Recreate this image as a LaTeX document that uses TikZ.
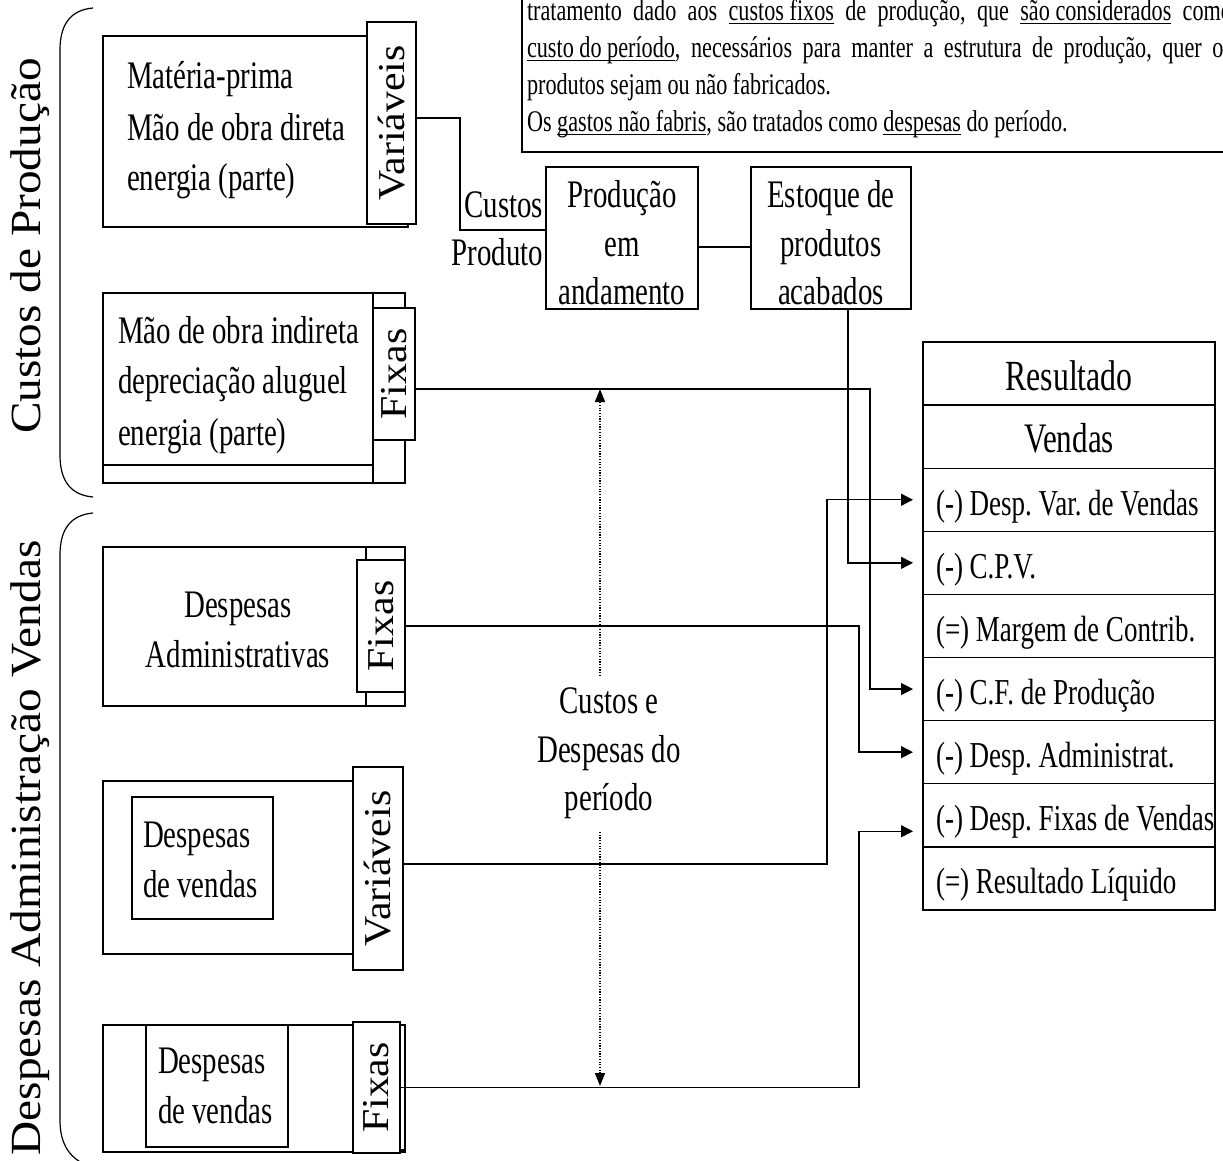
\documentclass[tikz,border=0pt]{standalone}
\usepackage{fontspec}
\setmainfont[FakeStretch=0.74]{Liberation Serif}
\newfontfamily\widefont[FakeStretch=1.1]{Liberation Serif}
\usetikzlibrary{arrows.meta}
\newcommand\fs[1]{\fontsize{#1}{#1}\selectfont}
\newcommand\myul[1]{\vtop{\hbox{\raisebox{0pt}[\height][0pt]{#1}}\kern3pt\hrule height 1.2pt}}
\frenchspacing
\begin{document}
\frenchspacing
\begin{tikzpicture}[x=1pt,y=-1pt,
  bx/.style={draw, line width=1.4pt, inner sep=0pt, outer sep=0pt, anchor=north west},
  wfill/.style={fill=white},
  txt/.style={inner sep=0pt, outer sep=0pt, anchor=base west, font=\fs{39}},
  ctxt/.style={inner sep=0pt, outer sep=0pt, anchor=base, font=\fs{39}},
  rtxt/.style={inner sep=0pt, outer sep=0pt, anchor=base west, font=\fs{36.5}},
  note/.style={inner sep=0pt, outer sep=0pt, anchor=base west, font=\fs{30}},
  rot/.style={inner sep=0pt, rotate=90, font=\widefont\fs{38}},
  side/.style={inner sep=0pt, rotate=90, font=\widefont\fs{43}},
  wire/.style={line width=1.4pt},
  arr/.style={wire, shorten >=10pt, -{Triangle[length=12pt,width=12pt]}},
  dots/.style={line width=1.2pt, dash pattern=on 1.2pt off 1.5pt, -{Triangle[length=13pt,width=10pt]}},
  brace/.style={line width=1.2pt},
]
\useasboundingbox (0,0) rectangle (1223,1160);
\clip (0,0) rectangle (1223,1160);

% ---------- note box (top) ----------
\node[bx, minimum width=730pt, minimum height=175pt] (notebox) at (522,-23) {};
\node[note] (n1) at (527,20) {\hbox to 705pt{tratamento dado aos \myul{custos fixos} de produção, que \myul{são considerados} como}};
\node[note] (n2) at (527,57) {\hbox to 705pt{\myul{custo do período}, necessários para manter a estrutura de produção, quer os}};
\node[note] (n3) at (527,94) {produtos sejam ou não fabricados.};
\node[note] (n4) at (527,131) {Os \myul{gastos não fabris}, são tratados como \myul{despesas} do período.};

% ---------- side brackets ----------
\draw[brace] (93,8) .. controls (70,10) and (60,25) .. (60,50) -- (60,455) .. controls (60,480) and (70,495) .. (93,497);
\draw[brace] (93,513) .. controls (70,515) and (60,530) .. (60,555) -- (60,1120) .. controls (60,1145) and (70,1160) .. (93,1168);
\node[side] (s1) at (30,246) {Custos de Produção};
\node[side] (s2) at (30,848) {Despesas Administração Vendas};

% ---------- box 1 ----------
\node[bx, minimum width=305pt, minimum height=191pt] (b1) at (103,36) {};
\node[bx, wfill, minimum width=49pt, minimum height=202pt] (t1) at (367,22) {};
\node[rot] (t1l) at (t1.center) {Variáveis};
\node[txt] (b1a) at (127,88) {Matéria-prima};
\node[txt] (b1b) at (127,140) {Mão de obra direta};
\node[txt] (b1c) at (127,190) {energia (parte)};

% ---------- box 2 ----------
\node[bx, minimum width=302pt, minimum height=190pt] (b2o) at (103,293) {};
\node[bx, minimum width=270pt, minimum height=172pt] (b2) at (103,293) {};
\draw[wire] (b2.north east) -- (b2.north east |- b2o.south);
\node[bx, wfill, minimum width=42pt, minimum height=132pt] (t2) at (373,308) {};
\node[rot] (t2l) at (t2.center) {Fixas};
\node[txt] (b2a) at (118,343) {Mão de obra indireta};
\node[txt] (b2b) at (118,393) {depreciação aluguel};
\node[txt] (b2c) at (118,445) {energia (parte)};

% ---------- box 3 ----------
\node[bx, minimum width=302pt, minimum height=159pt] (b3) at (103,547) {};
\draw[wire] ([xshift=263pt]b3.north west) -- ([xshift=263pt]b3.south west);
\node[bx, wfill, minimum width=48pt, minimum height=132pt] (t3) at (357,560) {};
\node[rot] (t3l) at (t3.center) {Fixas};
\node[ctxt] (b3a) at (238,617) {Despesas};
\node[ctxt] (b3b) at (238,667) {Administrativas};

% ---------- box 4 ----------
\node[bx, minimum width=300pt, minimum height=173pt] (b4) at (103,781) {};
\node[bx, minimum width=141pt, minimum height=122pt] (i4) at (132,797) {};
\node[bx, wfill, minimum width=50pt, minimum height=203pt] (t4) at (353,767) {};
\node[rot] (t4l) at (t4.center) {Variáveis};
\node[txt] (b4a) at (143,847) {Despesas};
\node[txt] (b4b) at (143,897) {de vendas};

% ---------- box 5 ----------
\node[bx, minimum width=302pt, minimum height=127pt] (b5) at (103,1025) {};
\node[bx, minimum width=142pt, minimum height=122pt] (i5) at (146,1025) {};
\node[bx, wfill, minimum width=48pt, minimum height=125pt] (t5b) at (357,1025) {};
\node[bx, wfill, minimum width=47pt, minimum height=131pt] (t5) at (353,1022) {};
\node[rot] (t5l) at (t5.center) {Fixas};
\node[txt] (b5a) at (158,1073) {Despesas};
\node[txt] (b5b) at (158,1123) {de vendas};

% ---------- production flow ----------
\node[bx, minimum width=152pt, minimum height=142pt] (prod) at (546,167) {};
\node[ctxt] (p1) at (622,207) {Produção};
\node[ctxt] (p2) at (622,256) {em};
\node[ctxt] (p3) at (622,304) {andamento};
\node[bx, minimum width=160pt, minimum height=142pt] (est) at (751,167) {};
\node[ctxt] (e1) at (831,207) {Estoque de};
\node[ctxt] (e2) at (831,256) {produtos};
\node[ctxt] (e3) at (831,304) {acabados};
\node[txt, anchor=base east] (lc) at (543,217) {Custos};
\node[txt, anchor=base east] (lp) at (543,265) {Produto};

% ---------- result table ----------
\foreach \k in {1,...,9}{
  \node[bx, minimum width=292pt, minimum height=63.1pt] (r\k) at (923,{342+63.1*(\k-1)}) {};
}
\node[ctxt, font=\fs{43}] (r1t) at (1069,390) {Resultado};
\node[ctxt, font=\fs{42}] (r2t) at (1069,452) {Vendas};
\node[rtxt] (r3t) at (936,515) {(-) Desp. Var. de Vendas};
\node[rtxt] (r4t) at (936,578) {(-) C.P.V.};
\node[rtxt] (r5t) at (936,641) {(=) Margem de Contrib.};
\node[rtxt] (r6t) at (936,704) {(-) C.F. de Produção};
\node[rtxt] (r7t) at (936,767) {(-) Desp. Administrat.};
\node[rtxt] (r8t) at (936,830) {(-) Desp. Fixas de Vendas};
\node[rtxt] (r9t) at (936,893) {(=) Resultado Líquido};

% ---------- period label ----------
\node[ctxt] (c1) at (609,713) {Custos e};
\node[ctxt] (c2) at (609,762) {Despesas do};
\node[ctxt] (c3) at (609,810) {período};

% ---------- connectors ----------
\coordinate (k1) at (460,230);
\draw[wire] ([yshift=5pt]t1.east) -| (k1) -- (k1 -| prod.west);
\draw[wire] ([yshift=-9pt]prod.east) -- ([yshift=-9pt]est.west);
\draw[arr] ([xshift=17pt]est.south) |- (r4.west);
\draw[arr] ([yshift=-15pt]t2.east) -| ([xshift=-53pt]r6.west) -- (r6.west);
\draw[arr] (t3.east) -| ([xshift=-64pt]r7.west) -- (r7.west);
\draw[arr] ([yshift=4.5pt]t4.east) -| ([xshift=-96pt]r3.west) -- (r3.west);
\draw[arr] (t5.east) -| ([xshift=-64pt,yshift=-16pt]r8.west) -- ([yshift=-16pt]r8.west);

\coordinate (dtop) at (600,389);
\coordinate (dbot) at (600,1086);
\coordinate (dm1) at (600,676);
\coordinate (dm2) at (600,832);
\draw[dots] (dm1) -- (dtop);
\draw[dots] (dm2) -- (dbot);
\end{tikzpicture}
\end{document}
